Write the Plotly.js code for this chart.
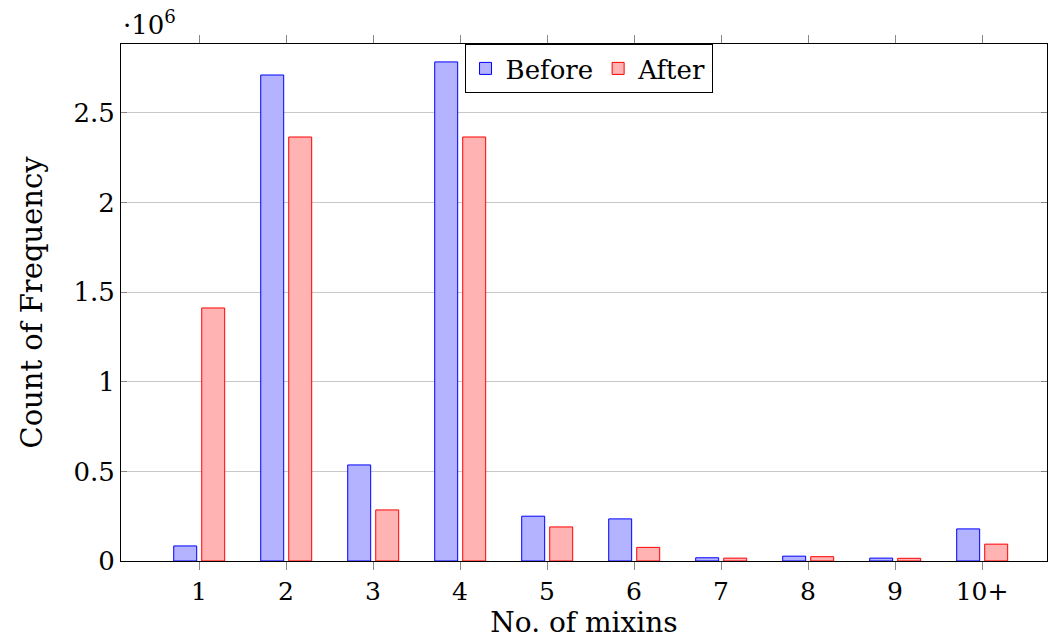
<!DOCTYPE html>
<html>
<head>
<meta charset="utf-8">
<script src="https://cdn.plot.ly/plotly-3.0.1.min.js"></script>
<style>html,body{margin:0;padding:0;background:#fff;}#chart{width:1052px;height:639px;}</style>
</head>
<body>
<div id="chart"></div>
<script>
const categories = [1, 2, 3, 4, 5, 6, 7, 8, 9, 10];
const tickLabels = ["1", "2", "3", "4", "5", "6", "7", "8", "9", "10+"];
const beforeValues = [84000, 2712000, 536000, 2785000, 250000, 235000, 18000, 27000, 16000, 179000];
const afterValues = [1412000, 2366000, 285000, 2366000, 190000, 76000, 16000, 24000, 15000, 94000];
const yTickVals = [0, 500000, 1000000, 1500000, 2000000, 2500000];
const yTickText = ["0", "0.5", "1", "1.5", "2", "2.5"];

const FONT = "DejaVu Serif, Liberation Serif, serif";

const traces = [
  {
    type: "bar", name: "Before", x: categories, y: beforeValues,
    width: 0.264, offset: -0.291,
    marker: {color: "rgb(179,179,255)", line: {color: "rgb(0,0,255)", width: 1}}
  },
  {
    type: "bar", name: "After", x: categories, y: afterValues,
    width: 0.264, offset: 0.031,
    marker: {color: "rgb(255,179,179)", line: {color: "rgb(255,0,0)", width: 1}}
  }
];

const layout = {
  width: 1052, height: 639,
  margin: {l: 121, r: 5, t: 44, b: 78},
  paper_bgcolor: "#fff", plot_bgcolor: "#fff",
  font: {family: FONT, size: 27, color: "#000"},
  showlegend: true,
  legend: {
    orientation: "h", x: 0.371, y: 1, xanchor: "left", yanchor: "top",
    bgcolor: "#fff", bordercolor: "#000", borderwidth: 1,
    font: {family: FONT, size: 26, color: "#000"},
    itemwidth: 30, tracegroupgap: 0
  },
  xaxis: {
    range: [0.103, 10.747],
    tickvals: categories, ticktext: tickLabels,
    ticks: "outside", ticklen: 8, tickcolor: "#888", tickwidth: 1,
    showline: true, linecolor: "#000", linewidth: 1, mirror: "ticks",
    showgrid: false, zeroline: false,
    tickfont: {family: FONT, size: 25},
    title: {text: "No. of mixins", font: {family: FONT, size: 28}, standoff: 0}
  },
  yaxis: {
    range: [0, 2885000],
    tickvals: yTickVals, ticktext: yTickText,
    ticks: "inside", ticklen: 6, tickcolor: "#888", tickwidth: 1,
    showline: true, linecolor: "#000", linewidth: 1, mirror: "ticks",
    showgrid: true, gridcolor: "#c8c8c8", gridwidth: 1, zeroline: false,
    tickfont: {family: FONT, size: 26},
    title: {text: "Count of Frequency", font: {family: FONT, size: 29}, standoff: 22}
  },
  annotations: [
    {
      text: "·10<sup>6</sup>", xref: "paper", yref: "paper", x: 0, y: 1,
      xanchor: "left", yanchor: "bottom", xshift: 0, yshift: 2, showarrow: false,
      font: {family: FONT, size: 26, color: "#000"}
    }
  ]
};

Plotly.newPlot("chart", traces, layout, {displayModeBar: false, staticPlot: true});
</script>
</body>
</html>
